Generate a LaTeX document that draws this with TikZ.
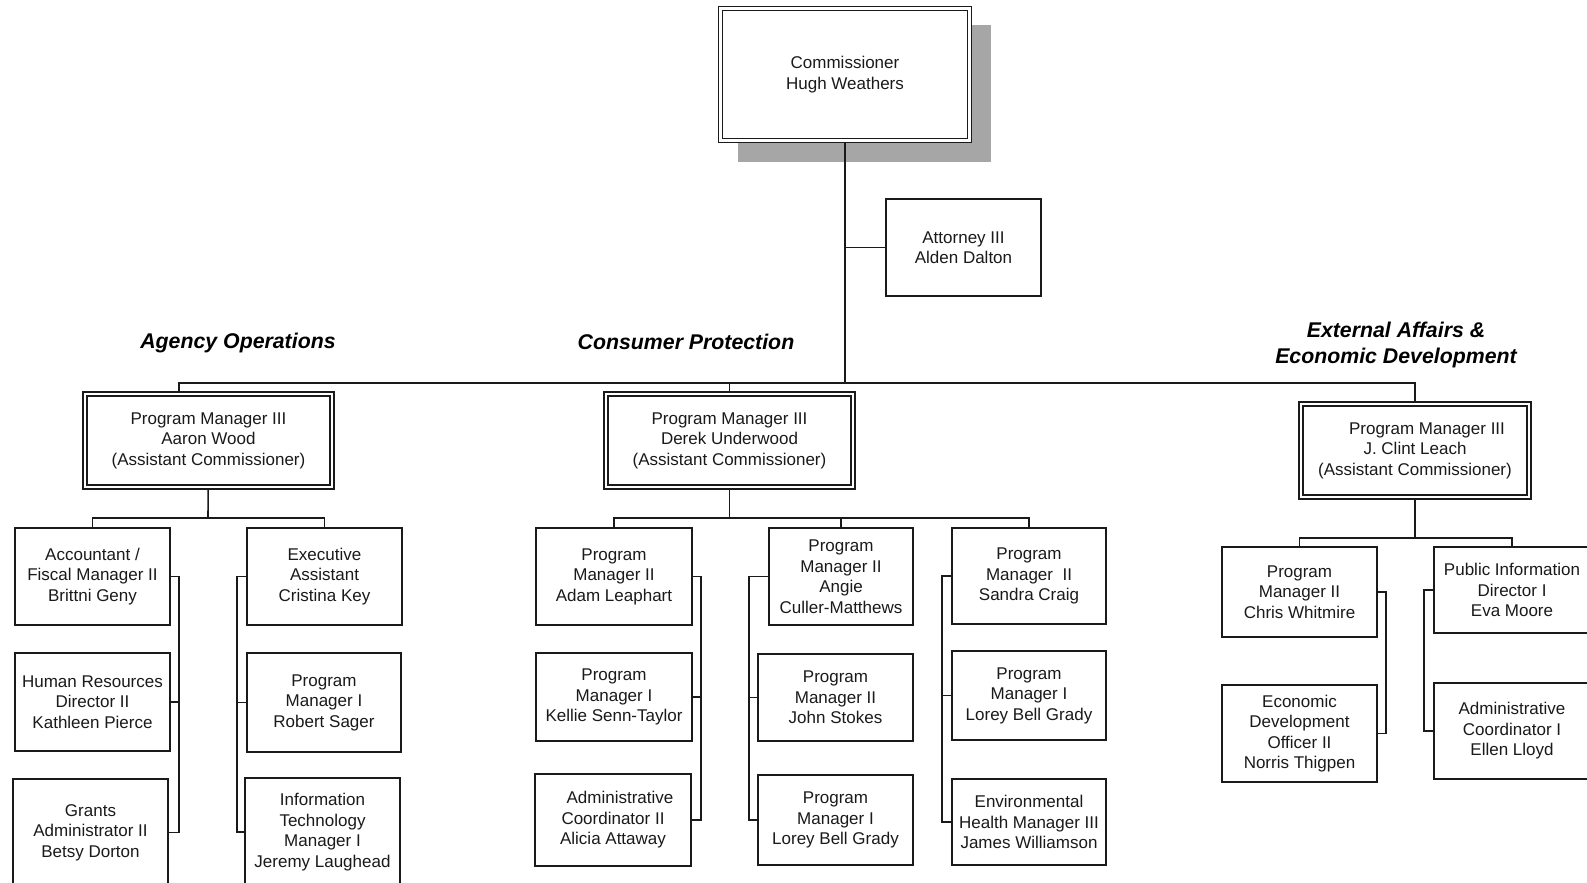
\documentclass[tikz,border=0pt]{standalone}
\usepackage{fontspec}
\setmainfont{Liberation Sans}
\usetikzlibrary{backgrounds}
\definecolor{shadowgray}{HTML}{A6A6A6}
\definecolor{ink}{HTML}{1A1A1A}
\begin{document}
\begin{tikzpicture}[x=1pt,y=-1pt,
  box/.style={draw=ink, line width=1.8pt, fill=white, align=center, inner sep=0pt,
    font=\fontsize{17}{20.5}\selectfont, text=ink},
  dbox/.style={box, line width=1.3pt, double=white, double distance=2.7pt},
  conn/.style={draw=ink, line width=1.6pt},
  title/.style={align=center, inner sep=0pt,
    font=\fontsize{21.3}{26}\selectfont\bfseries\itshape, text=black}]
\clip (0,0) rectangle (1587,883);

% top
\node[dbox, minimum width=249pt, minimum height=132pt] (comm) at (845,74.5) {Commissioner\\Hugh Weathers};
\node[box, minimum width=155pt, minimum height=97pt] (att) at (963.5,247.5) {Attorney III\\Alden Dalton};

% section titles
\node[title] (tAO) at (238,342.5) {Agency Operations};
\node[title] (tCP) at (686,341.5) {Consumer Protection};
\node[title] (tEA) at (1396,344.5) {External Affairs \&\\Economic Development};

% assistant commissioners
\node[dbox, minimum width=247pt, minimum height=93pt] (aaron) at (208.5,440.5) {Program Manager III\\Aaron Wood\\(Assistant Commissioner)};
\node[dbox, minimum width=247pt, minimum height=93pt] (derek) at (729.5,440.5) {Program Manager III\\Derek Underwood\\(Assistant Commissioner)};
\node[dbox, minimum width=228pt, minimum height=93pt] (clint) at (1415,450.5) {\hspace*{24pt}Program Manager III\\J. Clint Leach\\(Assistant Commissioner)};

% agency operations
\node[box, minimum width=155pt, minimum height=97pt] (acct) at (92.5,576.5) {Accountant /\\Fiscal Manager II\\Brittni Geny};
\node[box, minimum width=155pt, minimum height=98pt] (hr) at (92.5,702) {Human Resources\\Director II\\Kathleen Pierce};
\node[box, minimum width=155pt, minimum height=107pt] (grants) at (90.5,832.5) {Grants\\Administrator II\\Betsy Dorton};
\node[box, minimum width=155pt, minimum height=97pt] (exec) at (324.5,576.5) {Executive\\Assistant\\Cristina Key};
\node[box, minimum width=154pt, minimum height=99pt] (robert) at (324,702.5) {Program\\Manager I\\Robert Sager};
\node[box, minimum width=155pt, minimum height=108pt] (it) at (322.5,832) {Information\\Technology\\Manager I\\Jeremy Laughead};

% consumer protection
\node[box, minimum width=156pt, minimum height=97pt] (adam) at (614,576.5) {Program\\Manager II\\Adam Leaphart};
\node[box, minimum width=156pt, minimum height=88pt] (kellie) at (614,697) {Program\\Manager I\\Kellie Senn-Taylor};
\node[box, minimum width=156pt, minimum height=92pt] (alicia) at (613,820) {\hspace*{14pt}Administrative\\Coordinator II\\Alicia Attaway};
\node[box, minimum width=144pt, minimum height=97pt] (angie) at (841,576.5) {Program\\Manager II\\Angie\\Culler-Matthews};
\node[box, minimum width=155pt, minimum height=87pt] (john) at (835.5,697.5) {Program\\Manager II\\John Stokes};
\node[box, minimum width=155pt, minimum height=90pt] (loreyA) at (835.5,820) {Program\\Manager I\\Lorey Bell Grady};
\node[box, minimum width=154pt, minimum height=96pt] (sandra) at (1029,576) {Program\\Manager~~II\\Sandra Craig};
\node[box, minimum width=154pt, minimum height=89pt] (loreyB) at (1029,695.5) {Program\\Manager I\\Lorey Bell Grady};
\node[box, minimum width=154pt, minimum height=86pt] (env) at (1029,822) {Environmental\\Health Manager III\\James Williamson};

% external affairs
\node[box, minimum width=155pt, minimum height=90pt] (chris) at (1299.5,592) {Program\\Manager II\\Chris Whitmire};
\node[box, minimum width=155pt, minimum height=97pt] (econ) at (1299.5,733.5) {Economic\\Development\\Officer II\\Norris Thigpen};
\node[box, minimum width=156pt, minimum height=86pt] (pubinfo) at (1512,590) {Public Information\\Director I\\Eva Moore};
\node[box, minimum width=156pt, minimum height=96pt] (adminI) at (1512,731) {Administrative\\Coordinator I\\Ellen Lloyd};

\begin{pgfonlayer}{background}
\fill[shadowgray] (738,25) rectangle (991,162);
\coordinate (busL) at (179,383);
\coordinate (aoBus) at (208,518);
\coordinate (cpBus) at (729.5,518);
\coordinate (eaBus) at (1415,538);
\coordinate (brA) at (179,0);
\coordinate (brB) at (237,0);
\coordinate (brC) at (701,0);
\coordinate (brD) at (749,0);
\coordinate (brE) at (942,0);
\coordinate (brF) at (1386,0);
\coordinate (brG) at (1424,0);

\draw[conn] (comm) -- (comm |- busL);
\draw[conn] (att) -- (att -| comm);
\draw[conn] (aaron -| busL) -- (busL) -| (clint);
\draw[conn] (derek) -- (derek |- busL);

\draw[conn] (aaron) -- (aoBus);
\draw[conn] (acct) |- (aoBus) -| (exec);
\draw[conn] (acct) -- (acct -| brA) -- (grants -| brA) -- (grants);
\draw[conn] (hr) -- (hr -| brA);
\draw[conn] (exec) -- (exec -| brB) -- (it -| brB) -- (it);
\draw[conn] (robert) -- (robert -| brB);

\draw[conn] (derek) -- (cpBus);
\draw[conn] (adam) |- (cpBus) -| (sandra);
\draw[conn] (angie) -- (angie |- cpBus);
\draw[conn] (adam) -- (adam -| brC) -- (alicia -| brC) -- (alicia);
\draw[conn] (kellie) -- (kellie -| brC);
\draw[conn] (angie) -- (angie -| brD) -- (loreyA -| brD) -- (loreyA);
\draw[conn] (john) -- (john -| brD);
\draw[conn] (sandra) -- (sandra -| brE) -- (env -| brE) -- (env);
\draw[conn] (loreyB) -- (loreyB -| brE);

\draw[conn] (clint) -- (eaBus);
\draw[conn] (chris) |- (eaBus) -| (pubinfo);
\draw[conn] (chris) -- (chris -| brF) -- (econ -| brF) -- (econ);
\draw[conn] (pubinfo) -- (pubinfo -| brG) -- (adminI -| brG) -- (adminI);
\end{pgfonlayer}
\end{tikzpicture}
\end{document}
